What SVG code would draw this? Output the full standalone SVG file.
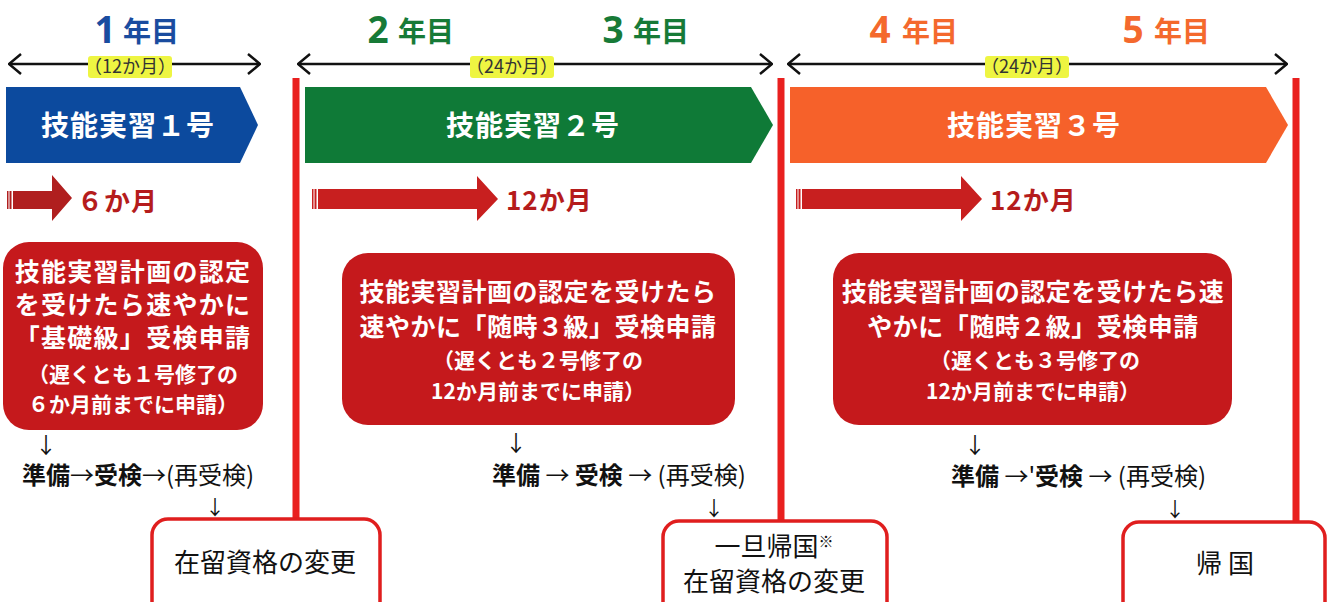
<svg xmlns="http://www.w3.org/2000/svg" width="1330" height="602" viewBox="0 0 1330 602">
<defs>
<style>
text{font-family:"Noto Sans CJK JP","Noto Sans",sans-serif}
.yr{font-weight:bold}
.dig{font-size:37px;text-anchor:middle;font-family:"Noto Sans","DejaVu Sans",sans-serif}
.nen{font-size:28px}
.blue{fill:#1a4c9f}.green{fill:#177a37}.orange{fill:#f4692d}
.lbl{font-size:18px;fill:#333;text-anchor:middle}
.hl{fill:#eef542}
.ban{font-size:28px;font-weight:bold;fill:#fff;text-anchor:middle;letter-spacing:1px}
.mo{font-size:26px;font-weight:bold;fill:#b51c1c;letter-spacing:1px}
.rbox{fill:#c5191c}
.bt{font-size:25px;font-weight:bold;fill:#fff;text-anchor:middle;letter-spacing:0.5px}
.bs{font-size:21px;font-weight:bold;fill:#fff;text-anchor:middle}
.flow{font-size:24px;fill:#111}
.b{font-weight:bold}
.dn{font-size:22px;fill:#111;text-anchor:middle}
.dn2{font-size:20px;fill:#111;text-anchor:middle}
.wbox{fill:#fff;stroke:#e01e1e;stroke-width:3.5}
.wt{font-size:26px;fill:#111;text-anchor:middle}
.dim{stroke:#111;stroke-width:2.5;fill:none}
.vl{stroke:#e9201f;stroke-width:7}
.sa{fill:#c81f1f}
</style>
<marker id="ah" viewBox="0 0 14 22" refX="13" refY="11" markerWidth="14" markerHeight="22" markerUnits="userSpaceOnUse" orient="auto-start-reverse">
<path d="M1,1 L13,11 L1,21" fill="none" stroke="#111" stroke-width="2.5"/>
</marker>
</defs>
<rect width="1330" height="602" fill="#fff"/>

<g id="connectors">
<line class="dim" x1="9" y1="64" x2="260" y2="64" marker-start="url(#ah)" marker-end="url(#ah)"/>
<line class="dim" x1="298" y1="64" x2="772" y2="64" marker-start="url(#ah)" marker-end="url(#ah)"/>
<line class="dim" x1="788" y1="64" x2="1287" y2="64" marker-start="url(#ah)" marker-end="url(#ah)"/>
<line class="vl" x1="296" y1="78" x2="296" y2="520"/>
<line class="vl" x1="781" y1="78" x2="781" y2="521"/>
<line class="vl" x1="1296" y1="78" x2="1296" y2="522"/>
<g id="arrow-6m" fill="#b01f1f">
<rect x="7" y="191" width="1.5" height="18"/>
<rect x="9.5" y="191" width="2" height="18"/>
<polygon points="13,191 52,191 52,175 72,198 52,221 52,209 13,209"/>
</g>
<g id="arrow-12m-a" class="sa">
<rect x="312" y="189" width="1.5" height="20"/>
<rect x="314.5" y="189" width="2" height="20"/>
<polygon points="318,189 477,189 477,176 498,199 477,221 477,209 318,209"/>
</g>
<g id="arrow-12m-b" class="sa">
<rect x="796" y="189" width="1.5" height="20"/>
<rect x="798.5" y="189" width="2" height="20"/>
<polygon points="802,189 961,189 961,176 982,199 961,221 961,209 802,209"/>
</g>
</g>

<g id="year-labels" class="yr">
<text class="dig blue" x="105" y="43">1</text><text class="nen blue" x="123" y="42">年目</text>
<text class="dig green" x="378" y="43">2</text><text class="nen green" x="398" y="42">年目</text>
<text class="dig green" x="613" y="43">3</text><text class="nen green" x="633" y="42">年目</text>
<text class="dig orange" x="880" y="43">4</text><text class="nen orange" x="902" y="42">年目</text>
<text class="dig orange" x="1133" y="43">5</text><text class="nen orange" x="1154" y="42">年目</text>
</g>

<g id="period-labels">
<rect class="hl" x="88" y="56" width="84" height="22" rx="3"/>
<text class="lbl" x="130" y="73">（12か月）</text>
<rect class="hl" x="470" y="56" width="84" height="22" rx="3"/>
<text class="lbl" x="512" y="73">（24か月）</text>
<rect class="hl" x="985" y="56" width="84" height="22" rx="3"/>
<text class="lbl" x="1027" y="73">（24か月）</text>
</g>

<g id="banner-1">
<polygon points="6,87 240,87 258,125 240,163 6,163" fill="#0c4a9e"/>
<text class="ban" x="128" y="136">技能実習１号</text>
</g>
<g id="banner-2">
<polygon points="305,87 751,87 773,125 751,163 305,163" fill="#0f7a37"/>
<text class="ban" x="533" y="136">技能実習２号</text>
</g>
<g id="banner-3">
<polygon points="790,87 1266,87 1288,125 1266,163 790,163" fill="#f6612a"/>
<text class="ban" x="1034" y="136">技能実習３号</text>
</g>

<g id="months">
<text class="mo" x="77" y="211">６か月</text>
<text class="mo" x="506" y="210">12か月</text>
<text class="mo" x="990" y="210">12か月</text>
</g>

<g id="box-1">
<rect class="rbox" x="3" y="242" width="260" height="188" rx="26"/>
<text class="bt" x="133" y="281" style="letter-spacing:1.3px">技能実習計画の認定</text>
<text class="bt" x="133" y="314" style="letter-spacing:1.3px">を受けたら速やかに</text>
<text class="bt" x="133" y="347" style="letter-spacing:1.3px">「基礎級」受検申請</text>
<text class="bs" x="133" y="382">（遅くとも１号修了の</text>
<text class="bs" x="133" y="412">６か月前までに申請）</text>
</g>
<g id="box-2">
<rect class="rbox" x="342" y="253" width="393" height="172" rx="26"/>
<text class="bt" x="538" y="301">技能実習計画の認定を受けたら</text>
<text class="bt" x="538" y="336">速やかに「随時３級」受検申請</text>
<text class="bs" x="538" y="368">（遅くとも２号修了の</text>
<text class="bs" x="538" y="399">12か月前までに申請）</text>
</g>
<g id="box-3">
<rect class="rbox" x="833" y="253" width="399" height="172" rx="26"/>
<text class="bt" x="1033" y="301">技能実習計画の認定を受けたら速</text>
<text class="bt" x="1033" y="336">やかに「随時２級」受検申請</text>
<text class="bs" x="1035" y="368">（遅くとも３号修了の</text>
<text class="bs" x="1033" y="399">12か月前までに申請）</text>
</g>

<g id="flow-1">
<text class="dn" x="46" y="453">↓</text>
<text class="flow" x="22" y="484"><tspan class="b">準備</tspan>→<tspan class="b">受検</tspan>→(再受検)</text>
<text class="dn2" x="215" y="515">↓</text>
</g>
<g id="flow-2">
<text class="dn" x="516" y="451">↓</text>
<text class="flow" x="492" y="484"><tspan class="b">準備</tspan> → <tspan class="b">受検</tspan> → (再受検)</text>
<text class="dn2" x="714" y="516">↓</text>
</g>
<g id="flow-3">
<text class="dn" x="975" y="453">↓</text>
<text class="flow" x="951" y="485"><tspan class="b">準備</tspan> →'<tspan class="b">受検</tspan> → (再受検)</text>
<text class="dn2" x="1175" y="517">↓</text>
</g>

<g id="result-1">
<rect class="wbox" x="152" y="519" width="228" height="110" rx="16"/>
<text class="wt" x="265" y="572">在留資格の変更</text>
</g>
<g id="result-2">
<rect class="wbox" x="663" y="521" width="224" height="110" rx="16"/>
<text class="wt" x="774" y="556">一旦帰国<tspan font-size="15" dy="-9">※</tspan></text>
<text class="wt" x="774" y="591">在留資格の変更</text>
</g>
<g id="result-3">
<rect class="wbox" x="1123" y="522" width="202" height="110" rx="16"/>
<text class="wt" x="1225" y="573">帰 国</text>
</g>
</svg>
